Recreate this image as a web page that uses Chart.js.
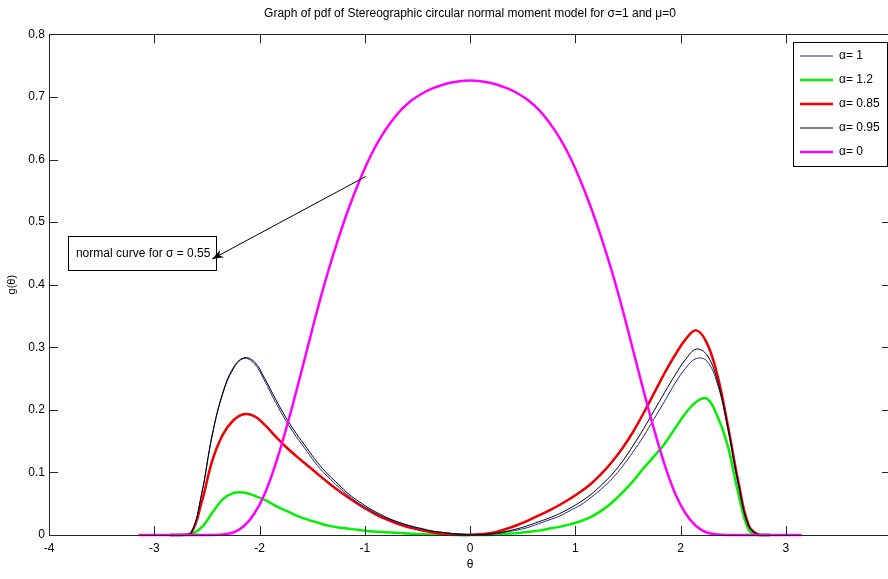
<!DOCTYPE html>
<html>
<head>
<meta charset="utf-8">
<script src="https://cdn.jsdelivr.net/npm/chart.js@4.4.1/dist/chart.umd.min.js"></script>
<style>
html, body { margin: 0; padding: 0; background: #fff; overflow: hidden; }
#wrap { width: 900px; height: 579px; }
</style>
</head>
<body>
<div id="wrap"><canvas id="chart"></canvas></div>
<script>
// theta grid (radians)
const theta = [-3.15, -3.05, -2.95, -2.85, -2.75, -2.65, -2.55, -2.45, -2.35, -2.25, -2.15, -2.05, -1.95, -1.85, -1.75, -1.65,
  -1.55, -1.45, -1.35, -1.25, -1.15, -1.05, -0.95, -0.85, -0.75, -0.65, -0.55, -0.45, -0.35, -0.25, -0.15, -0.05,
  0.05, 0.15, 0.25, 0.35, 0.45, 0.55, 0.65, 0.75, 0.85, 0.95, 1.05, 1.15, 1.25, 1.35, 1.45, 1.55,
  1.65, 1.75, 1.85, 1.95, 2.05, 2.15, 2.25, 2.35, 2.45, 2.55, 2.65, 2.75, 2.85, 2.95, 3.05, 3.15];

// alpha = 1 (blue)
const alpha1 = [null, null, null, 0, 0, 0.003, 0.065, 0.158, 0.225, 0.265, 0.282, 0.274, 0.246, 0.213, 0.183, 0.157,
  0.134, 0.111, 0.093, 0.077, 0.062, 0.050, 0.040, 0.031, 0.024, 0.018, 0.013, 0.009, 0.006, 0.004, 0.002, 0.001,
  0, 0.001, 0.002, 0.005, 0.008, 0.012, 0.018, 0.024, 0.030, 0.039, 0.048, 0.060, 0.074, 0.090, 0.110, 0.133,
  0.158, 0.186, 0.214, 0.243, 0.267, 0.282, 0.278, 0.242, 0.170, 0.081, 0.014, 0, 0, null, null, null];

// alpha = 1.2 (green)
const alpha12 = [null, null, null, 0, 0, 0.001, 0.012, 0.035, 0.057, 0.067, 0.068, 0.063, 0.056, 0.047, 0.039, 0.031,
  0.025, 0.020, 0.015, 0.012, 0.010, 0.008, 0.006, 0.005, 0.004, 0.003, 0.002, 0.001, 0.001, 0.001, 0, 0,
  0, 0, 0.001, 0.002, 0.003, 0.005, 0.007, 0.010, 0.013, 0.017, 0.022, 0.029, 0.039, 0.052, 0.068, 0.086,
  0.107, 0.126, 0.146, 0.171, 0.195, 0.213, 0.218, 0.190, 0.142, 0.066, 0.008, 0, 0, null, null, null];

// alpha = 0.85 (red)
const alpha085 = [null, null, null, 0, 0, 0.003, 0.052, 0.118, 0.160, 0.183, 0.193, 0.190, 0.176, 0.158, 0.141, 0.126,
  0.112, 0.098, 0.084, 0.071, 0.059, 0.048, 0.038, 0.029, 0.022, 0.016, 0.011, 0.007, 0.004, 0.002, 0.001, 0,
  0.001, 0.002, 0.005, 0.010, 0.016, 0.023, 0.031, 0.039, 0.048, 0.058, 0.069, 0.082, 0.098, 0.117, 0.139, 0.165,
  0.195, 0.227, 0.259, 0.288, 0.313, 0.327, 0.307, 0.256, 0.175, 0.085, 0.015, 0, 0, null, null, null];

// alpha = 0.95 (black)
const alpha095 = [null, null, null, 0, 0, 0.003, 0.066, 0.160, 0.227, 0.267, 0.283, 0.277, 0.250, 0.218, 0.188, 0.162,
  0.139, 0.116, 0.097, 0.081, 0.065, 0.053, 0.042, 0.033, 0.025, 0.019, 0.014, 0.010, 0.006, 0.004, 0.002, 0.001,
  0, 0.001, 0.003, 0.006, 0.010, 0.015, 0.021, 0.027, 0.034, 0.043, 0.053, 0.065, 0.080, 0.097, 0.118, 0.143,
  0.170, 0.199, 0.228, 0.256, 0.281, 0.297, 0.288, 0.247, 0.172, 0.082, 0.014, 0, 0, null, null, null];

// alpha = 0 (magenta, normal curve)
const alpha0 = [0, 0, 0, 0, 0, 0, 0, 0, 0.001, 0.004, 0.014, 0.034, 0.066, 0.112, 0.168, 0.230,
  0.295, 0.360, 0.420, 0.474, 0.523, 0.566, 0.604, 0.635, 0.660, 0.680, 0.695, 0.706, 0.714, 0.720, 0.724, 0.726,
  0.726, 0.724, 0.720, 0.714, 0.706, 0.695, 0.680, 0.660, 0.635, 0.604, 0.566, 0.523, 0.474, 0.420, 0.360, 0.295,
  0.230, 0.168, 0.112, 0.066, 0.034, 0.014, 0.004, 0.001, 0, 0, 0, 0, 0, 0, 0, 0];

const xTicks = [-4, -3, -2, -1, 0, 1, 2, 3, 4];
const yTicks = [0, 0.1, 0.2, 0.3, 0.4, 0.5, 0.6, 0.7, 0.8];
const seriesNames = ['\u03b1= 1', '\u03b1= 1.2', '\u03b1= 0.85', '\u03b1= 0.95', '\u03b1= 0'];

const FONT = "'Liberation Sans Narrow', 'Liberation Sans', Arial, sans-serif";
Chart.defaults.font.family = FONT;
Chart.defaults.color = '#000';

const pts = arr => theta.map((t, i) => ({ x: t, y: arr[i] }));

const series = [
  { data: alpha1, color: '#24248c', width: 1, order: 2 },
  { data: alpha12, color: '#00f000', width: 2.5, order: 4 },
  { data: alpha085, color: '#ee0000', width: 2.5, order: 3 },
  { data: alpha095, color: '#000000', width: 1, order: 1 },
  { data: alpha0, color: '#ff00ff', width: 2.5, order: 0 }
];

// box, inward ticks, legend and the arrow note, drawn like the matlab ones
const frame = {
  id: 'frame',
  afterDraw(chart) {
    const { ctx, chartArea: a, scales: { x, y } } = chart;
    ctx.save();
    ctx.strokeStyle = '#262626';
    ctx.lineWidth = 1;
    ctx.strokeRect(Math.round(a.left) + 0.5, Math.round(a.top) + 0.5, Math.round(a.right - a.left), Math.round(a.bottom - a.top));
    ctx.beginPath();
    xTicks.forEach(v => {
      const px = Math.round(x.getPixelForValue(v)) + 0.5;
      ctx.moveTo(px, a.bottom); ctx.lineTo(px, a.bottom - 9);
      ctx.moveTo(px, a.top); ctx.lineTo(px, a.top + 9);
    });
    yTicks.forEach(v => {
      const py = Math.round(y.getPixelForValue(v)) + 0.5;
      ctx.moveTo(a.left, py); ctx.lineTo(a.left + 9, py);
      ctx.moveTo(a.right, py); ctx.lineTo(a.right - 9, py);
    });
    ctx.stroke();

    // legend box
    const lx = 793, ly = Math.round(a.top) + 8;
    ctx.fillStyle = '#fff';
    ctx.fillRect(lx, ly, 94, 124);
    ctx.strokeStyle = '#000';
    ctx.strokeRect(lx + 0.5, ly + 0.5, 94, 124);
    ctx.font = '12px ' + FONT;
    ctx.textBaseline = 'middle';
    series.forEach((s, i) => {
      const ry = ly + 14 + i * 24;
      ctx.strokeStyle = s.color;
      ctx.lineWidth = s.width;
      ctx.beginPath();
      ctx.moveTo(lx + 7, ry); ctx.lineTo(lx + 40, ry);
      ctx.stroke();
      ctx.fillStyle = '#000';
      ctx.fillText(seriesNames[i], lx + 46, ry);
    });

    // note box with arrow
    const bx0 = x.getPixelForValue(-3.82), bx1 = x.getPixelForValue(-2.41);
    const by0 = y.getPixelForValue(0.478), by1 = y.getPixelForValue(0.424);
    ctx.fillStyle = '#fff';
    ctx.fillRect(bx0, by0, bx1 - bx0, by1 - by0);
    ctx.strokeStyle = '#000';
    ctx.lineWidth = 1;
    ctx.strokeRect(Math.round(bx0) + 0.5, Math.round(by0) + 0.5, Math.round(bx1 - bx0), Math.round(by1 - by0));
    ctx.fillStyle = '#000';
    ctx.fillText('normal curve for \u03c3 = 0.55', bx0 + 8, (by0 + by1) / 2 + 1);

    const sx = x.getPixelForValue(-0.99), sy = y.getPixelForValue(0.573);
    const tx = x.getPixelForValue(-2.45), ty = y.getPixelForValue(0.441);
    const ang = Math.atan2(ty - sy, tx - sx);
    ctx.beginPath();
    ctx.moveTo(sx, sy); ctx.lineTo(tx, ty);
    ctx.stroke();
    ctx.beginPath();
    ctx.moveTo(tx, ty);
    ctx.lineTo(tx - 12 * Math.cos(ang - 0.35), ty - 12 * Math.sin(ang - 0.35));
    ctx.lineTo(tx - 8 * Math.cos(ang), ty - 8 * Math.sin(ang));
    ctx.lineTo(tx - 12 * Math.cos(ang + 0.35), ty - 12 * Math.sin(ang + 0.35));
    ctx.closePath();
    ctx.fill();
    ctx.restore();
  }
};

new Chart(document.getElementById('chart'), {
  type: 'line',
  data: {
    datasets: series.map((s, i) => ({
      label: seriesNames[i],
      data: pts(s.data),
      borderColor: s.color,
      borderWidth: s.width,
      borderJoinStyle: 'round',
      pointRadius: 0,
      tension: 0.4,
      clip: false,
      order: s.order
    }))
  },
  options: {
    responsive: true,
    maintainAspectRatio: false,
    animation: false,
    events: [],
    layout: { padding: { left: 0, right: 9, top: 0, bottom: 0 } },
    scales: {
      x: {
        type: 'linear',
        min: -4,
        max: 4,
        afterBuildTicks: s => { s.ticks = xTicks.map(v => ({ value: v })); },
        afterFit: s => { s.height = 44; s.paddingRight = 0; },
        grid: { display: false, drawTicks: false },
        border: { display: false },
        ticks: { font: { size: 12 }, padding: 6, color: '#000' },
        title: { display: true, text: '\u03b8', font: { size: 12 }, padding: { top: 0, bottom: 7 }, color: '#000' }
      },
      y: {
        min: 0,
        max: 0.8,
        afterBuildTicks: s => { s.ticks = yTicks.map(v => ({ value: v })); },
        afterFit: s => { s.width = 49; },
        grid: { display: false, drawTicks: false },
        border: { display: false },
        ticks: { font: { size: 12 }, padding: 4, color: '#000' },
        title: { display: true, text: 'g(\u03b8)', font: { size: 11 }, padding: { top: 5, bottom: 0 }, color: '#000' }
      }
    },
    plugins: {
      legend: { display: false },
      tooltip: { enabled: false },
      title: {
        display: true,
        fullSize: false,
        text: 'Graph of pdf of Stereographic circular normal moment model for \u03c3=1 and \u03bc=0',
        font: { size: 12, weight: 'normal' },
        color: '#000',
        padding: { top: 6, bottom: 14 }
      }
    }
  },
  plugins: [frame]
});
</script>
</body>
</html>
